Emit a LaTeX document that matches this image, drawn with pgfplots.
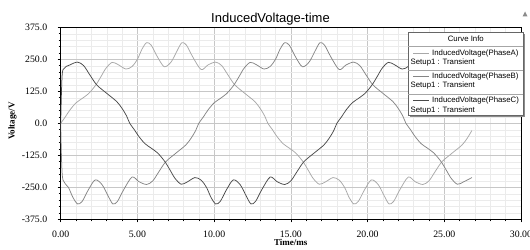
\documentclass[border=0pt]{standalone}
\usepackage{fontspec}
\setmainfont{Liberation Serif}
\newfontfamily\arial{Liberation Sans}
\usepackage{pgfplots}
\pgfplotsset{compat=1.18}
\definecolor{phA}{HTML}{A8A8A8}
\definecolor{phB}{HTML}{858585}
\definecolor{phC}{HTML}{4A4A4A}
\begin{document}
\begin{tikzpicture}[x=1pt,y=1pt]
\begin{axis}[
 at={(60.7pt,29.7pt)}, anchor=south west,
 width=460.3pt, height=192pt, scale only axis,
 xmin=0,xmax=30,ymin=-375,ymax=375,
 xtick={0,5,10,15,20,25,30},
 xticklabels={0.00,5.00,10.00,15.00,20.00,25.00,30.00},
 ytick={-375,-250,-125,0,125,250,375},
 yticklabels={-375.0,-250.0,-125.0,0.0,125.0,250.0,375.0},
 minor x tick num=4, minor y tick num=4,
 grid=both,
 major grid style={draw=black!22, line width=0.5pt},
 minor grid style={draw=black!8, line width=0.4pt},
 tick pos=left, tick align=outside,
 major tick length=3pt, minor tick length=2pt,
 tick style={black, line width=0.5pt},
 axis line style={black, line width=0.6pt},
 ticklabel style={font=\fontsize{9.8}{10}\selectfont},
 xticklabel style={yshift=-5.5pt},
 yticklabel style={xshift=-7pt},
 every axis plot/.append style={line width=0.75pt, smooth, tension=0.5},
]
% Phase A
\addplot[phA] coordinates {
(0,0)(0.3,25)(0.6,52)(1.0,80)(1.4,97)(1.8,115)(2.1,135)(2.35,155)(2.65,185)(2.95,215)
(3.35,238)(3.75,229)(4.25,212)(4.65,222)(5.0,250)(5.3,290)(5.6,315)(5.9,305)(6.3,260)
(6.75,221)(7.2,240)(7.6,285)(7.9,315)(8.2,305)(8.6,260)(9.15,210)(9.6,228)(10.1,239)
(10.5,225)(10.9,189)(11.35,150)(12.0,117)(12.65,85)(13.0,58)(13.3,28)(13.5,0)
(13.8,-25)(14.1,-52)(14.5,-80)(14.9,-97)(15.3,-115)(15.6,-135)(15.85,-155)(16.15,-185)
(16.45,-215)(16.85,-238)(17.25,-229)(17.75,-212)(18.15,-222)(18.5,-250)(18.8,-290)
(19.1,-315)(19.4,-305)(19.8,-260)(20.25,-221)(20.7,-240)(21.1,-285)(21.4,-315)(21.7,-305)
(22.1,-260)(22.65,-210)(23.1,-228)(23.6,-239)(24.0,-225)(24.4,-189)(24.85,-150)
(25.5,-117)(26.15,-85)(26.5,-58)(26.8,-28)
};
% Phase B
\addplot[phB] coordinates {
(0,0)(0.06,-150)(0.15,-222)(0.5,-250)(0.8,-290)(1.1,-315)(1.4,-305)(1.8,-260)(2.25,-221)
(2.7,-240)(3.1,-285)(3.4,-315)(3.7,-305)(4.1,-260)(4.65,-210)(5.1,-228)(5.6,-239)
(6.0,-225)(6.4,-189)(6.85,-150)(7.5,-117)(8.15,-85)(8.5,-58)(8.8,-28)(9.0,0)
(9.3,25)(9.6,52)(10.0,80)(10.4,97)(10.8,115)(11.1,135)(11.35,155)(11.65,185)(11.95,215)
(12.35,238)(12.75,229)(13.25,212)(13.65,222)(14.0,250)(14.3,290)(14.6,315)(14.9,305)
(15.3,260)(15.75,221)(16.2,240)(16.6,285)(16.9,315)(17.2,305)(17.6,260)(18.15,210)
(18.6,228)(19.1,239)(19.5,225)(19.9,189)(20.35,150)(21.0,117)(21.65,85)(22.0,58)
(22.3,28)(22.5,0)(22.8,-25)(23.1,-52)(23.5,-80)(23.9,-97)(24.3,-115)(24.6,-135)
(24.85,-155)(25.15,-185)(25.45,-215)(25.85,-238)(26.25,-229)(26.8,-212)
};
% Phase C
\addplot[phC] coordinates {
(0,0)(0.06,140)(0.15,210)(0.6,228)(1.1,239)(1.5,225)(1.9,189)(2.35,150)(3.0,117)
(3.65,85)(4.0,58)(4.3,28)(4.5,0)(4.8,-25)(5.1,-52)(5.5,-80)(5.9,-97)(6.3,-115)
(6.6,-135)(6.85,-155)(7.15,-185)(7.45,-215)(7.85,-238)(8.25,-229)(8.75,-212)(9.15,-222)
(9.5,-250)(9.8,-290)(10.1,-315)(10.4,-305)(10.8,-260)(11.25,-221)(11.7,-240)(12.1,-285)
(12.4,-315)(12.7,-305)(13.1,-260)(13.65,-210)(14.1,-228)(14.6,-239)(15.0,-225)
(15.4,-189)(15.85,-150)(16.5,-117)(17.15,-85)(17.5,-58)(17.8,-28)(18.0,0)
(18.3,25)(18.6,52)(19.0,80)(19.4,97)(19.8,115)(20.1,135)(20.35,155)(20.65,185)
(20.95,215)(21.35,238)(21.75,229)(22.25,212)(22.65,222)(23.0,250)(23.3,290)(23.6,315)
(23.9,305)(24.3,260)(24.75,221)(25.2,240)(25.6,285)(25.9,315)(26.2,305)(26.6,260)(26.8,240)
};
\end{axis}
% title
\node[anchor=base, font=\arial\fontsize{13}{14}\selectfont] at (270.5,226) {InducedVoltage-time};
\fill[black!45] (522.5,232.5) -- (527.5,232.5) -- (525,237.5) -- cycle;
% axis labels
\node[anchor=base, font=\bfseries\fontsize{9}{10}\selectfont] at (290.8,3.5) {Time/ms};
\node[rotate=90, font=\bfseries\fontsize{9}{10}\selectfont] at (12.5,128) {Voltage/V};
% legend
\fill[black!45] (410,131.6) rectangle (525,215.3);
\filldraw[fill=white, draw=black!60, line width=0.5pt] (408.3,133.3) rectangle (523.3,217);
\begin{scope}[every node/.style={font=\arial\fontsize{7.8}{8}\selectfont, inner sep=0pt}]
\node at (465.8,210) {Curve Info};
\draw[black!35, line width=0.5pt] (408.3,202.7) -- (523.3,202.7);
\draw[black!35, line width=0.5pt] (408.3,178.3) -- (523.3,178.3);
\draw[black!35, line width=0.5pt] (408.3,154.3) -- (523.3,154.3);
\draw[phA, line width=0.8pt] (413,196) -- (429,196);
\node[anchor=west] at (432,196) {InducedVoltage(PhaseA)};
\node[anchor=west] at (410.5,186.7) {Setup1 : Transient};
\draw[phB, line width=0.8pt] (413,172.7) -- (429,172.7);
\node[anchor=west] at (432,172.7) {InducedVoltage(PhaseB)};
\node[anchor=west] at (410.5,163.3) {Setup1 : Transient};
\draw[phC, line width=0.8pt] (413,148.3) -- (429,148.3);
\node[anchor=west] at (432,148.3) {InducedVoltage(PhaseC)};
\node[anchor=west] at (410.5,139) {Setup1 : Transient};
\end{scope}
\pgfresetboundingbox
\path[use as bounding box] (0,0) rectangle (530,249);
\end{tikzpicture}
\end{document}
